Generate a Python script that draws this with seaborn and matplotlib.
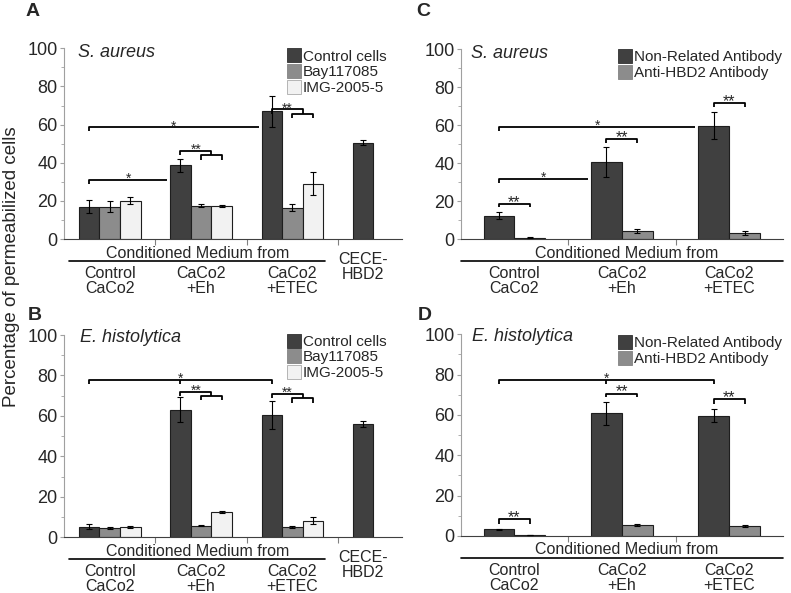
import pandas as pd
import matplotlib
matplotlib.use('Agg')
import matplotlib.pyplot as plt
from matplotlib.patches import Patch
from matplotlib.transforms import offset_copy
import seaborn as sns

# categories
groups = ['Control\nCaCo2', 'CaCo2\n+Eh', 'CaCo2\n+ETEC', 'CECE-\nHBD2']
treatments = ['Control cells', 'Bay117085', 'IMG-2005-5']
antibodies = ['Non-Related Antibody', 'Anti-HBD2 Antibody']

# A - S. aureus, inhibitors
a_control = [17.0, 38.7, 67.0, 50.6]
a_control_err = [3.3, 3.5, 8.2, 1.5]
a_bay = [17.0, 17.5, 16.4]
a_bay_err = [2.8, 0.8, 1.7]
a_img = [20.1, 17.4, 29.0]
a_img_err = [1.8, 0.4, 6.0]

# B - E. histolytica, inhibitors
b_control = [5.2, 63.1, 60.5, 56.2]
b_control_err = [1.2, 6.1, 7.0, 1.5]
b_bay = [4.6, 5.7, 5.2]
b_bay_err = [0.5, 0.3, 0.5]
b_img = [5.2, 12.5, 8.2]
b_img_err = [0.6, 0.4, 1.6]

# C - S. aureus, antibodies
c_nonrel = [12.3, 40.4, 59.6]
c_nonrel_err = [1.8, 8.0, 7.2]
c_anti = [0.7, 4.2, 3.0]
c_anti_err = [0.2, 1.3, 1.0]

# D - E. histolytica, antibodies
d_nonrel = [3.3, 60.8, 59.7]
d_nonrel_err = [0.4, 5.7, 3.4]
d_anti = [0.5, 5.5, 5.0]
d_anti_err = [0.1, 0.3, 0.3]

sns.set_style('ticks')
plt.rcParams['font.family'] = ['Liberation Sans', 'DejaVu Sans']

DARK, MID, LIGHT = '#404040', '#8c8c8c', '#f2f2f2'
W, H = 791, 593
fig = plt.figure(figsize=(W / 100, H / 100), dpi=100)


def px_axes(l, t, r, b):
    return fig.add_axes([l / W, 1 - b / H, (r - l) / W, (b - t) / H])


def make_df(levels, series):
    rows = []
    for lev, vals in zip(levels, series):
        for g, v in zip(groups, vals):
            rows.append((g, lev, v))
    return pd.DataFrame(rows, columns=['group', 'hue', 'value'])


def draw_bars(ax, df, order, hue_order, colors, errs, width, xmax):
    sns.barplot(data=df, x='group', y='value', hue='hue', order=order,
                hue_order=hue_order, palette=colors, saturation=1, width=width,
                errorbar=None, edgecolor='#1e1e1e', linewidth=0.8,
                legend=False, ax=ax)
    pos = {}
    for h, (cont, err) in enumerate(zip(list(ax.containers), errs)):
        bars = sorted(cont.patches, key=lambda p: p.get_x())
        xs = [p.get_x() + p.get_width() / 2 for p in bars]
        ys = [p.get_height() for p in bars]
        ax.errorbar(xs, ys, yerr=err, fmt='none', ecolor='black',
                    elinewidth=0.8, capsize=2, capthick=0.8, zorder=4)
        for p, x in zip(bars, xs):
            pos[(int(round(x)), h)] = (p.get_x(), x)
    ax.set_xlim(-0.5, xmax)
    ax.set_ylim(0, 100)
    ax.set_xlabel('')
    ax.set_ylabel('')
    ax.set_xticks([i + 0.5 for i in range(len(order) - 1)] if xmax > 3 else [0.5, 1.5])
    ax.set_xticklabels([])
    ax.set_yticks(range(0, 101, 20))
    ax.set_yticks(range(10, 100, 20), minor=True)
    ax.tick_params(axis='x', length=4, width=0.8, color='#808080')
    ax.tick_params(axis='y', which='major', length=3, width=0.8, color='#a0a0a0',
                   labelsize=13, pad=1.5)
    ax.tick_params(axis='y', which='minor', length=2, width=0.6, color='#a0a0a0')
    sns.despine(ax=ax)
    ax.spines['left'].set_color('#a0a0a0')
    ax.spines['bottom'].set_color('#404040')
    return pos


def line(ax, xs, ys):
    ax.plot(xs, ys, color='black', lw=1.3, solid_capstyle='butt', clip_on=False, zorder=5)


def stars(ax, x, y, s, size=10):
    ax.annotate(s, xy=(x, y), xytext=(0, -3), textcoords='offset pixels',
                ha='center', va='baseline', fontsize=size)


def c(pos, g, h):
    return pos[(g, h)][1]


def left(pos, g, h):
    return pos[(g, h)][0]


def long_bracket(ax, x0, x1, y, drop, s, right_drop=False, mid=None):
    if right_drop:
        line(ax, [x0, x0, x1, x1], [y - drop, y, y, y - drop])
    else:
        line(ax, [x0, x0, x1], [y - drop, y, y])
    if mid is not None:
        line(ax, [mid, mid], [y, y - drop])
        stars(ax, mid, y, s)
    else:
        stars(ax, (x0 + x1) / 2, y, s)


def nested_bracket(ax, pos, g, y_top, y_mid, y_low):
    x0, x1, x2 = c(pos, g, 0), c(pos, g, 1), c(pos, g, 2)
    xm = (x1 + x2) / 2
    line(ax, [x0, x0, xm, xm], [y_mid, y_top, y_top, y_mid])
    line(ax, [x1, x1, x2, x2], [y_low, y_mid, y_mid, y_low])
    stars(ax, (x0 + xm) / 2, y_top, '**')


def pair_bracket(ax, pos, g, y, drop):
    x0, x1 = c(pos, g, 0), c(pos, g, 1)
    line(ax, [x0, x0, x1, x1], [y - drop, y, y, y - drop])
    stars(ax, (x0 + x1) / 2, y, '**', size=11.5)


def bottom_text(ax, pos, n, under, mid_x, cece=False):
    tr = ax.get_xaxis_transform()
    ax.annotate('Conditioned Medium from', xy=(mid_x, 0), xycoords=tr, xytext=(0, -14),
                textcoords='offset pixels', ha='center', va='center', fontsize=11.5)
    ax.plot(under, [0, 0], transform=offset_copy(tr, fig=fig, y=-22, units='dots'),
            color='black', lw=1.2, clip_on=False)
    for g in range(n):
        ax.annotate(groups[g], xy=(g, 0), xycoords=tr, xytext=(0, -42),
                    textcoords='offset pixels', ha='center', va='center',
                    fontsize=11.5, linespacing=1.0)
    if cece:
        ax.annotate(groups[3], xy=(c(pos, 3, 0), 0), xycoords=tr, xytext=(0, -28),
                    textcoords='offset pixels', ha='center', va='center',
                    fontsize=11.5, linespacing=1.0)


def species(ax, name, dx, dy):
    ax.annotate(name, xy=(0, 1), xycoords='axes fraction', xytext=(dx, dy),
                textcoords='offset pixels', ha='left', va='center',
                fontsize=13, style='italic')


def legend(ax, labels, colors, anchor):
    handles = [Patch(facecolor=col, edgecolor='#b4b4b4' if col == LIGHT else col, lw=0.7)
               for col in colors]
    ax.legend(handles, labels, loc='upper left', bbox_to_anchor=anchor, frameon=False,
              borderpad=0, borderaxespad=0, handlelength=0.9, handleheight=1.05,
              handletextpad=0.15, labelspacing=0.02, fontsize=11)


# ---- A ----
ax_a = px_axes(64, 48.3, 402, 239)
df_a = make_df(treatments, [a_control, a_bay, a_img])
pa = draw_bars(ax_a, df_a, groups, treatments, [DARK, MID, LIGHT],
               [a_control_err, a_bay_err, a_img_err], 0.675, 3.2)
long_bracket(ax_a, c(pa, 0, 0), left(pa, 1, 0) - 0.03, 31.0, 2.0, '*')
long_bracket(ax_a, c(pa, 0, 0), left(pa, 2, 0) - 0.03, 58.5, 1.9, '*')
nested_bracket(ax_a, pa, 1, 46.2, 44.0, 41.4)
nested_bracket(ax_a, pa, 2, 68.0, 65.8, 63.5)
bottom_text(ax_a, pa, 3, [-0.44, 2.36], 0.96, cece=True)
species(ax_a, 'S. aureus', 14, -4)
legend(ax_a, treatments, [DARK, MID, LIGHT], (0.66, 1.0))

# ---- B ----
ax_b = px_axes(64, 335, 402, 537.3)
df_b = make_df(treatments, [b_control, b_bay, b_img])
pb = draw_bars(ax_b, df_b, groups, treatments, [DARK, MID, LIGHT],
               [b_control_err, b_bay_err, b_img_err], 0.675, 3.2)
long_bracket(ax_b, c(pb, 0, 0), c(pb, 2, 0), 77.8, 2.0, '*', right_drop=True,
             mid=c(pb, 1, 0))
nested_bracket(ax_b, pb, 1, 72.0, 70.0, 67.9)
nested_bracket(ax_b, pb, 2, 70.8, 68.7, 66.5)
bottom_text(ax_b, pb, 3, [-0.44, 2.36], 0.96, cece=True)
species(ax_b, 'E. histolytica', 16, -2)
legend(ax_b, treatments, [DARK, MID, LIGHT], (0.66, 1.007))

# ---- C ----
ax_c = px_axes(460.7, 49, 783, 239)
df_c = make_df(antibodies, [c_nonrel, c_anti])
pc = draw_bars(ax_c, df_c, groups[:3], antibodies, [DARK, MID],
               [c_nonrel_err, c_anti_err], 0.574, 2.5)
pair_bracket(ax_c, pc, 0, 18.6, 1.9)
long_bracket(ax_c, c(pc, 0, 0), left(pc, 1, 0) - 0.03, 31.6, 2.3, '*')
long_bracket(ax_c, c(pc, 0, 0), left(pc, 2, 0) - 0.03, 58.8, 1.9, '*')
pair_bracket(ax_c, pc, 1, 52.5, 2.1)
pair_bracket(ax_c, pc, 2, 71.6, 2.1)
bottom_text(ax_c, pc, 3, [-0.5, 2.5], 1.04)
species(ax_c, 'S. aureus', 10, -4)
legend(ax_c, antibodies, [DARK, MID], (0.488, 1.0))

# ---- D ----
ax_d = px_axes(460.7, 334.3, 783, 536)
df_d = make_df(antibodies, [d_nonrel, d_anti])
pd_ = draw_bars(ax_d, df_d, groups[:3], antibodies, [DARK, MID],
                [d_nonrel_err, d_anti_err], 0.574, 2.5)
pair_bracket(ax_d, pd_, 0, 8.3, 2.4)
long_bracket(ax_d, c(pd_, 0, 0), c(pd_, 2, 0), 77.4, 2.0, '*', right_drop=True,
             mid=c(pd_, 1, 0))
pair_bracket(ax_d, pd_, 1, 70.6, 1.8)
pair_bracket(ax_d, pd_, 2, 67.7, 2.3)
bottom_text(ax_d, pd_, 3, [-0.5, 2.5], 1.04)
species(ax_d, 'E. histolytica', 11, -2)
legend(ax_d, antibodies, [DARK, MID], (0.488, 0.997))

# shared label and panel letters
fig.text(12 / W, 1 - 267 / H, 'Percentage of permeabilized cells', rotation=90,
         ha='center', va='center', fontsize=13.5)
for letter, x, y in [('A', 33, 11), ('B', 35, 316), ('C', 423, 11), ('D', 425, 316)]:
    fig.text(x / W, 1 - y / H, letter, ha='center', va='center', fontsize=14,
             fontweight='bold')

fig.savefig('out.png', dpi=100)
